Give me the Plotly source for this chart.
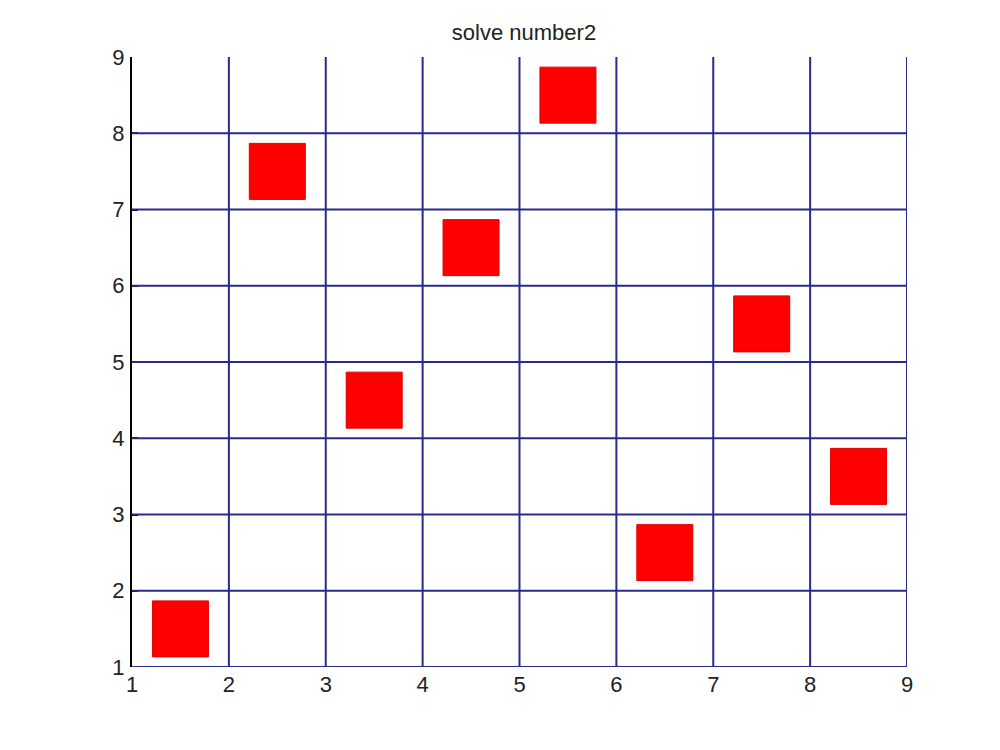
import plotly.graph_objects as go

# solution of the 8-queens board (column -> row), drawn at cell centres
cols = [1, 2, 3, 4, 5, 6, 7, 8]
rows = [1, 7, 4, 6, 8, 2, 5, 3]
tick_vals = [1, 2, 3, 4, 5, 6, 7, 8, 9]
grid_x = [2, 3, 4, 5, 6, 7, 8, 9]
grid_y = [1, 2, 3, 4, 5, 6, 7, 8]

GRID_COLOR = "#2A2A8A"
FONT = "Liberation Sans, Arial, sans-serif"

xs = [c + 0.5 for c in cols]
ys = [r + 0.5 for r in rows]

fig = go.Figure(go.Scatter(
    x=xs, y=ys,
    mode="markers",
    marker=dict(symbol="square", size=56, color="#FF0000",
                line=dict(color="#E00000", width=1)),
    hoverinfo="skip",
    showlegend=False,
))

shapes = []
for gx in grid_x:
    shapes.append(dict(type="line", xref="x", yref="y", x0=gx, x1=gx, y0=1, y1=9,
                       line=dict(color=GRID_COLOR, width=2)))
for gy in grid_y:
    shapes.append(dict(type="line", xref="x", yref="y", x0=1, x1=9, y0=gy, y1=gy,
                       line=dict(color=GRID_COLOR, width=2)))

fig.update_layout(
    width=1000, height=750,
    paper_bgcolor="#FFFFFF",
    plot_bgcolor="#FFFFFF",
    margin=dict(l=124, r=101, t=49, b=91),
    title=dict(text="solve number2", x=0.516, xanchor="center", y=0.968, yanchor="middle",
               font=dict(family=FONT, size=22, color="#222222")),
    xaxis=dict(range=[1, 9], tickvals=tick_vals, showgrid=False, zeroline=False,
               showline=False, ticks="", ticklabelstandoff=2,
               tickfont=dict(family=FONT, size=22, color="#222222"),
               fixedrange=True),
    yaxis=dict(range=[1, 9], tickvals=tick_vals, showgrid=False, zeroline=False,
               showline=True, linecolor="#000000", linewidth=2, mirror=False,
               ticks="inside", ticklen=6, tickwidth=2, tickcolor="#000000",
               ticklabelstandoff=1,
               tickfont=dict(family=FONT, size=22, color="#222222"),
               fixedrange=True),
    shapes=shapes,
)

fig.write_html("out.html")
